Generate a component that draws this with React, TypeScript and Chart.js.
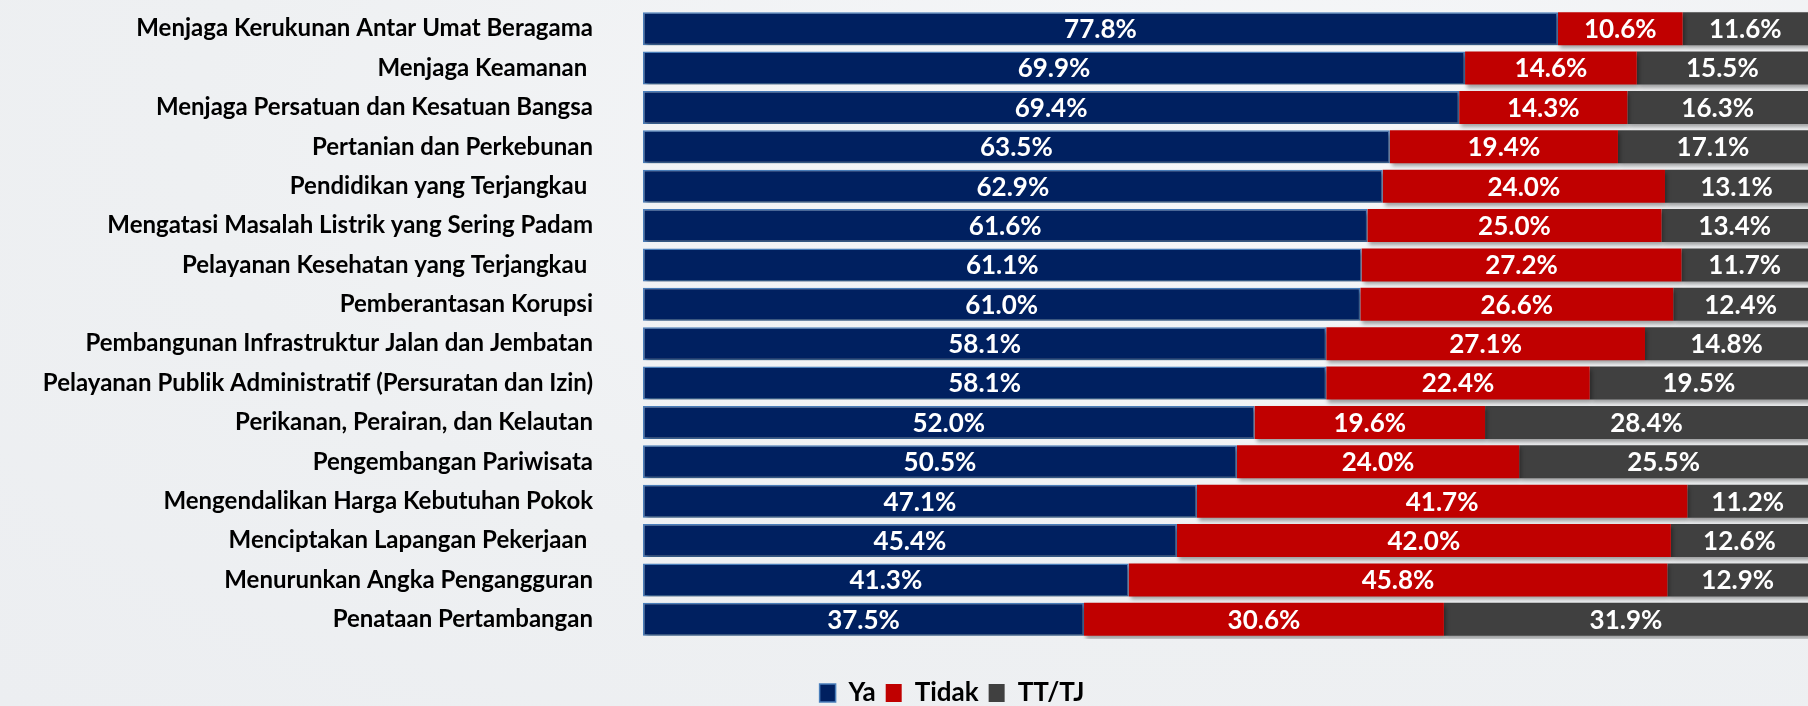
import React, { useEffect, useRef } from "react";
import { Chart, registerables } from "chart.js";

Chart.register(...registerables);

const categories = [
  "Menjaga Kerukunan Antar Umat Beragama",
  "Menjaga Keamanan ",
  "Menjaga Persatuan dan Kesatuan Bangsa",
  "Pertanian dan Perkebunan",
  "Pendidikan yang Terjangkau ",
  "Mengatasi Masalah Listrik yang Sering Padam",
  "Pelayanan Kesehatan yang Terjangkau ",
  "Pemberantasan Korupsi",
  "Pembangunan Infrastruktur Jalan dan Jembatan",
  "Pelayanan Publik Administratif (Persuratan dan Izin)",
  "Perikanan, Perairan, dan Kelautan",
  "Pengembangan Pariwisata",
  "Mengendalikan Harga Kebutuhan Pokok",
  "Menciptakan Lapangan Pekerjaan ",
  "Menurunkan Angka Pengangguran",
  "Penataan Pertambangan",
];

const ya = [77.8, 69.9, 69.4, 63.5, 62.9, 61.6, 61.1, 61.0, 58.1, 58.1, 52.0, 50.5, 47.1, 45.4, 41.3, 37.5];
const tidak = [10.6, 14.6, 14.3, 19.4, 24.0, 25.0, 27.2, 26.6, 27.1, 22.4, 19.6, 24.0, 41.7, 42.0, 45.8, 30.6];
const tttj = [11.6, 15.5, 16.3, 17.1, 13.1, 13.4, 11.7, 12.4, 14.8, 19.5, 28.4, 25.5, 11.2, 12.6, 12.9, 31.9];

const seriesNames = ["Ya", "Tidak", "TT/TJ"];
const seriesColors = ["#002060", "#c00000", "#404040"];

const FONT = "Lato, 'Open Sans', sans-serif";

const shadowPlugin = {
  id: "barShadow",
  beforeDatasetDraw(chart: any) {
    const ctx = chart.ctx;
    ctx.save();
    ctx.shadowColor = "rgba(0,0,0,0.35)";
    ctx.shadowBlur = 4;
    ctx.shadowOffsetX = 2;
    ctx.shadowOffsetY = 3;
  },
  afterDatasetDraw(chart: any) {
    chart.ctx.restore();
  },
};

const valueLabels = {
  id: "valueLabels",
  afterDatasetsDraw(chart: any) {
    const ctx = chart.ctx;
    const area = chart.chartArea;
    ctx.save();
    ctx.font = `bold 26px ${FONT}`;
    ctx.fillStyle = "#ffffff";
    ctx.textAlign = "center";
    ctx.textBaseline = "middle";
    chart.data.datasets.forEach((ds: any, di: number) => {
      const meta = chart.getDatasetMeta(di);
      meta.data.forEach((el: any, i: number) => {
        const p = el.getProps(["x", "y", "base"], true);
        const right = Math.min(p.x, area.right);
        const cx = (p.base + right) / 2;
        ctx.fillText(Number(ds.data[i]).toFixed(1) + "%", cx, p.y + 1);
      });
    });
    ctx.restore();
  },
};

const legendShift = {
  id: "legendShift",
  afterLayout(chart: any) {
    const lg = chart.legend;
    if (!lg) return;
    lg.left += 48;
    lg.right += 48;
    lg.top += 31;
    lg.bottom += 31;
  },
};

export default function App() {
  const ref = useRef<HTMLCanvasElement | null>(null);

  useEffect(() => {
    document.body.style.margin = "0";
    const canvas = ref.current;
    if (!canvas) return;
    const chart = new Chart(canvas, {
      type: "bar",
      data: {
        labels: categories,
        datasets: [ya, tidak, tttj].map((d, i) => ({
          label: seriesNames[i],
          data: d,
          backgroundColor: seriesColors[i],
          borderColor: i === 0 ? "#4a7ebb" : seriesColors[i],
          borderWidth: i === 0 ? 1.5 : 0,
          borderSkipped: false,
          barPercentage: 0.84,
          categoryPercentage: 1.0,
        })),
      },
      options: {
        indexAxis: "y",
        animation: false,
        responsive: true,
        maintainAspectRatio: false,
        layout: { padding: { top: 9, bottom: 21, left: 0, right: 0 } },
        scales: {
          x: {
            stacked: true,
            display: false,
            min: 0,
            max: 99.06,
          },
          y: {
            stacked: true,
            grid: { display: false },
            border: { display: false },
            ticks: {
              color: "#000000",
              padding: 42,
              font: { family: FONT, size: 24, weight: "bold" },
            },
            afterFit(scale: any) {
              scale.width = 643;
              scale.paddingTop = 0;
              scale.paddingBottom = 0;
            },
          },
        },
        plugins: {
          legend: {
            position: "bottom",
            labels: {
              color: "#000000",
              font: { family: FONT, size: 26, weight: "bold" },
              boxWidth: 16,
              boxHeight: 18,
              padding: 10,
            },
          },
          tooltip: { enabled: false },
        },
      },
      plugins: [shadowPlugin, valueLabels, legendShift],
    });
    return () => chart.destroy();
  }, []);

  return (
    <div
      style={{
        width: 1808,
        height: 706,
        position: "relative",
        background: "radial-gradient(ellipse at 70% 20%, #f6f7f9 0%, #eef0f2 60%, #eceef1 100%)",
      }}
    >
      <canvas ref={ref} />
    </div>
  );
}
